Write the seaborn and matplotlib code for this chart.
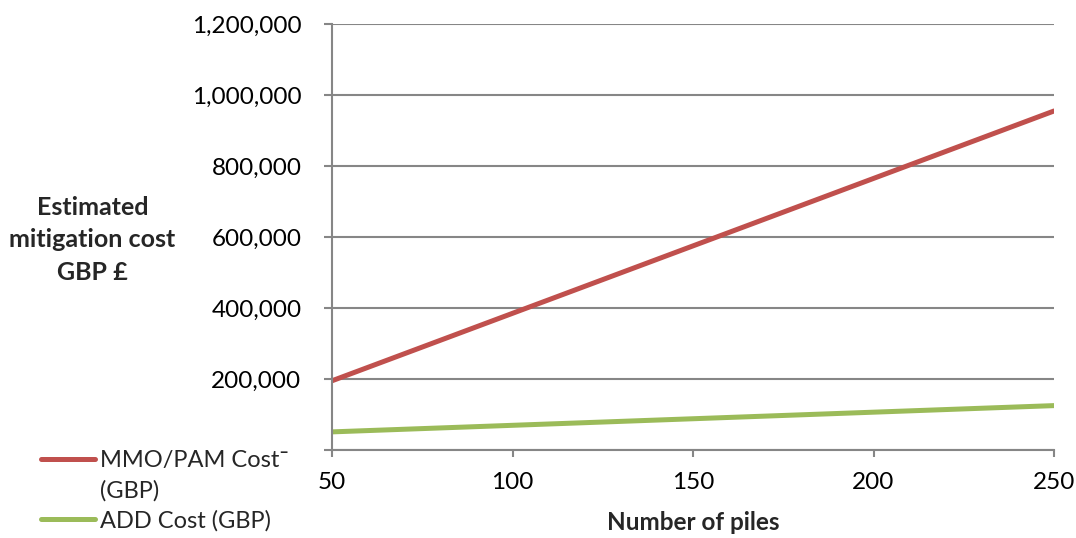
import matplotlib
matplotlib.use("Agg")
import matplotlib.pyplot as plt
import seaborn as sns
import pandas as pd

# Mitigation cost estimates by number of piles
piles = [50, 100, 150, 200, 250]
mmo_pam_cost = [195000, 385000, 575000, 765000, 955000]
add_cost = [51000, 69500, 88000, 106500, 125000]
series_names = ["MMO/PAM Cost\u00af (GBP)", "ADD Cost (GBP)"]
legend_rows = ["MMO/PAM Cost\u00af", "(GBP)", "ADD Cost (GBP)"]
series_colors = ["#C0504D", "#9BBB59"]
y_ticks = [0, 200000, 400000, 600000, 800000, 1000000, 1200000]
y_tick_labels = ["", "200,000", "400,000", "600,000", "800,000", "1,000,000", "1,200,000"]
x_ticks = [50, 100, 150, 200, 250]

df = pd.concat([
    pd.DataFrame({"piles": piles, "cost": mmo_pam_cost, "series": series_names[0]}),
    pd.DataFrame({"piles": piles, "cost": add_cost, "series": series_names[1]}),
])

sns.set_theme(style="white")
plt.rcParams["font.family"] = ["Lato", "DejaVu Sans"]

fig = plt.figure(figsize=(10.76, 5.38), dpi=100)
ax = fig.add_axes([0.3086, 0.1636, 0.6710, 0.7918])

sns.lineplot(data=df, x="piles", y="cost", hue="series",
             palette=dict(zip(series_names, series_colors)),
             linewidth=3.6, ax=ax, legend=False, solid_capstyle="round")

grid_color = "#868686"
ax.set_xlim(50, 250)
ax.set_ylim(0, 1200000)
ax.set_yticks(y_ticks)
ax.set_yticklabels(y_tick_labels)
ax.set_xticks(x_ticks)
ax.set_xticklabels([str(v) for v in x_ticks])
ax.yaxis.grid(True, color=grid_color, linewidth=1.5)
ax.set_axisbelow(True)
for side in ["top", "right"]:
    ax.spines[side].set_visible(False)
for side in ["left", "bottom"]:
    ax.spines[side].set_color(grid_color)
    ax.spines[side].set_linewidth(1.5)
ax.tick_params(axis="y", direction="out", length=6, width=1.5, color=grid_color,
               pad=16, labelsize=17.5, labelcolor="black", left=True)
ax.tick_params(axis="x", direction="out", length=5, width=1.5, color=grid_color,
               pad=11, labelsize=17.5, labelcolor="black", bottom=True)

ax.set_xlabel("Number of piles", fontsize=17.5, fontweight="bold", labelpad=13)
ax.set_ylabel("Estimated\nmitigation cost\nGBP \u00a3", fontsize=18, fontweight="bold",
              rotation=0, ha="center", va="center", linespacing=1.5)
ax.yaxis.set_label_coords(-0.332, 0.493)

# Legend: the first entry wraps onto a second row under its own label
handles = [
    plt.Line2D([0], [0], color=series_colors[0], linewidth=3.6, solid_capstyle="round"),
    plt.Line2D([0], [0], color="none", linewidth=0),
    plt.Line2D([0], [0], color=series_colors[1], linewidth=3.6, solid_capstyle="round"),
]
fig.legend(handles, legend_rows, loc="upper left", bbox_to_anchor=(0.038, 0.163),
           frameon=False, fontsize=17, handlelength=2.3, handletextpad=0.2,
           labelspacing=0.36, borderaxespad=0, borderpad=0)

fig.savefig("out.png", dpi=100)
